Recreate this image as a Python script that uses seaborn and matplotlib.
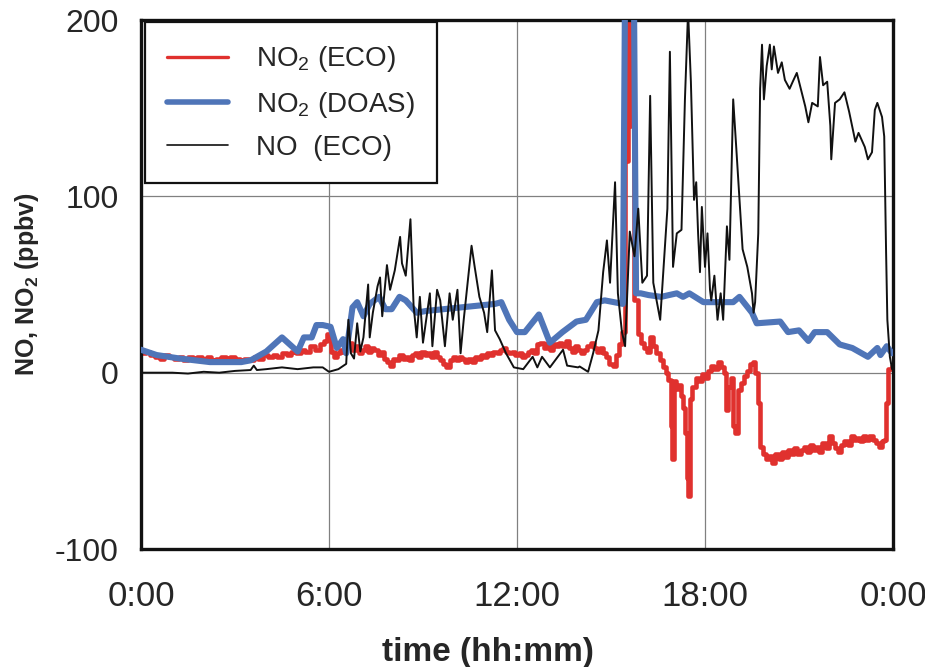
import seaborn as sns
import numpy as np
import matplotlib.pyplot as plt
import pandas as pd

# NO2 from the DOAS instrument (hours, ppbv)
doas_h = [0.0, 0.5, 1.25, 2.2, 3.2, 3.5, 4.0, 4.5, 5.0, 5.2, 5.45, 5.6, 5.8, 6.05, 6.25, 6.45, 6.55,
          6.75, 6.9, 7.1, 7.3, 7.6, 7.8, 8.0, 8.25, 8.45, 8.8, 9.1, 10.2, 11.3, 11.5, 11.75, 12.0,
          12.25, 12.7, 13.05, 13.45, 13.9, 14.2, 14.55, 14.8, 15.38, 15.48, 15.70, 15.80, 15.95,
          16.2, 16.6, 17.1, 17.3, 17.5, 17.95, 18.5, 18.9, 19.1, 19.5, 19.65, 20.4, 20.65, 21.0,
          21.3, 21.5, 21.9, 22.3, 22.7, 23.2, 23.5, 23.6, 23.8, 23.97]
doas_v = [13, 10, 8, 6, 6, 7, 12, 20, 12, 20, 20, 27, 27, 26, 14, 19, 11,
          37, 40, 32, 39, 43, 36, 36, 43, 41, 34, 35, 37, 39, 40, 30, 23,
          23, 33, 17, 23, 29, 30, 40, 41, 39, 300, 300, 45, 45,
          44, 43, 45, 43, 45, 40, 40, 40, 43, 34, 28, 29, 23, 24,
          18, 23, 23, 16, 14, 9, 14, 10, 15, 11]

# NO2 from the ECO analyser
eco2_h = [0.0, 0.15, 0.3, 0.45, 0.6, 0.75, 0.9, 1.05, 1.2, 1.35, 1.5, 1.65, 1.8, 1.95, 2.1, 2.25,
          2.4, 2.55, 2.7, 2.85, 3.0, 3.15, 3.3, 3.45, 3.6, 3.75, 3.9, 4.05, 4.2, 4.35, 4.5, 4.65,
          4.8, 4.95, 5.1, 5.25, 5.4, 5.55, 5.7, 5.85, 5.95,
          6.05, 6.15, 6.25, 6.35, 6.45, 6.55, 6.65, 6.75, 6.85, 6.95, 7.05, 7.15, 7.25, 7.35,
          7.45, 7.55, 7.65, 7.75, 7.85, 7.95, 8.05, 8.15, 8.25, 8.35, 8.45, 8.55, 8.65, 8.75,
          8.85, 8.95, 9.05, 9.15, 9.25, 9.35, 9.45, 9.55, 9.65, 9.75, 9.85, 9.95, 10.05, 10.15,
          10.25, 10.35, 10.45, 10.55, 10.65, 10.75, 10.85, 10.95, 11.05, 11.15, 11.25, 11.35,
          11.45, 11.55, 11.65, 11.75, 11.85, 11.95, 12.05, 12.15, 12.25, 12.35, 12.45, 12.55,
          12.65, 12.75, 12.85, 12.95, 13.05, 13.15, 13.25, 13.35, 13.45, 13.55, 13.65, 13.75,
          13.85, 13.95, 14.05, 14.15, 14.25, 14.35, 14.45, 14.55, 14.65, 14.75, 14.85, 14.95,
          15.05, 15.15, 15.25, 15.35,
          15.45, 15.55, 15.65, 15.75, 15.85, 15.95, 16.05, 16.15, 16.25, 16.35, 16.45, 16.55,
          16.65, 16.75, 16.82, 16.9, 16.95, 17.0, 17.08, 17.15, 17.22, 17.3, 17.36, 17.42, 17.47,
          17.52, 17.6, 17.7, 17.8, 17.9, 18.0, 18.1, 18.2, 18.3, 18.4, 18.5, 18.6, 18.68, 18.75,
          18.82, 18.9, 18.97, 19.05, 19.15, 19.25, 19.35, 19.45, 19.52, 19.6, 19.68, 19.75,
          19.85, 19.95, 20.05, 20.15, 20.25, 20.35, 20.45, 20.55, 20.65, 20.75, 20.85, 20.95,
          21.05, 21.15, 21.25, 21.35, 21.45, 21.55, 21.65, 21.75, 21.85, 21.95, 22.05, 22.15,
          22.25, 22.35, 22.45, 22.55, 22.65, 22.75, 22.85, 22.95, 23.05, 23.15, 23.25, 23.35,
          23.45, 23.55, 23.65, 23.72, 23.78, 23.85, 23.97]
eco2_v = [11, 12, 10, 9, 8, 10, 9, 8, 9, 7, 9, 8, 9, 8, 9, 7,
          8, 9, 8, 9, 8, 7, 8, 7, 9, 8, 10, 9, 10, 9, 11, 10,
          12, 11, 13, 12, 15, 13, 16, 18, 22,
          12, 9, 11, 13, 12, 16, 17, 13, 15, 11, 13, 15, 12, 14,
          13, 10, 12, 8, 6, 4, 8, 7, 10, 8, 9, 7, 10, 11,
          9, 12, 10, 11, 9, 12, 9, 7, 5, 3, 7, 9, 7, 9,
          8, 6, 8, 6, 9, 8, 10, 9, 11, 10, 12, 11,
          13, 14, 12, 11, 12, 10, 11, 9, 10, 12, 13, 11,
          16, 17, 14, 16, 13, 16, 15, 17, 15, 18, 14, 12,
          15, 13, 11, 13, 15, 17, 14, 12, 14, 11, 9, 5,
          4, 10, 16, 23,
          120, 230, 140, 41, 22, 17, 14, 12, 20, 15, 11, 7,
          3, 0, -4, -30, -49, -5, -9, -7, -13, -20, -34, -60, -70,
          -15, -8, -3, -5, -1, -3, 1, 4, 2, 6, 3, 0, -21, -8,
          -3, -30, -34, -10, -6, -2, 1, 5, 6, 0, -17, -42,
          -46, -49, -47, -51, -46, -49, -45, -48, -44, -46, -43, -46,
          -44, -42, -45, -41, -44, -42, -45, -40, -43, -36, -40, -43,
          -45, -41, -39, -41, -36, -38, -37, -39, -36, -38, -36, -38,
          -40, -42, -39, -38, -17, 2, 4]

# NO from the ECO analyser
eco_h = [0.0, 0.5, 1.0, 1.5, 2.0, 2.5, 3.0, 3.5, 3.6, 3.7, 4.0, 4.5, 5.0, 5.5, 5.8, 6.0, 6.3,
         6.55, 6.62, 6.7, 6.8, 6.9, 7.0, 7.1, 7.25, 7.3, 7.4, 7.55, 7.63, 7.7, 7.85, 7.95, 8.1,
         8.27, 8.33, 8.45, 8.6, 8.7, 8.8, 8.9, 9.0, 9.22, 9.3, 9.45, 9.55, 9.7, 9.85, 9.95, 10.1,
         10.2, 10.3, 10.55, 10.65, 10.8, 10.95, 11.05, 11.2, 11.3, 11.45, 11.65, 11.9, 12.2, 12.5,
         12.65, 12.8, 13.05, 13.47, 13.6, 13.95, 14.0, 14.27, 14.43, 14.6, 14.75, 14.87, 14.97,
         15.13, 15.22, 15.35, 15.45, 15.6, 15.75, 15.87, 16.0, 16.15, 16.25, 16.35, 16.57, 16.8,
         16.88, 16.98, 17.1, 17.25, 17.36, 17.46, 17.55, 17.65, 17.72, 17.78, 17.84, 17.9, 18.0,
         18.08, 18.16, 18.2, 18.3, 18.4, 18.5, 18.58, 18.7, 18.78, 18.9, 19.0, 19.1, 19.2, 19.35,
         19.5, 19.55, 19.6, 19.7, 19.76, 19.82, 19.88, 19.97, 20.07, 20.13, 20.2, 20.33, 20.45,
         20.55, 20.7, 20.8, 20.93, 21.03, 21.2, 21.3, 21.42, 21.6, 21.67, 21.77, 21.9, 22.0,
         22.03, 22.15, 22.3, 22.45, 22.6, 22.8, 22.9, 23.1, 23.2, 23.33, 23.42, 23.5, 23.65,
         23.72, 23.78, 23.82, 23.9, 23.97]
eco_v = [0, 0, 0, -0.5, 0.5, 0, 1, 1.5, 4, 1.5, 2, 3, 2, 3, 3, 0.5, 2,
         5, 30, 11, 8, 28, 12, 20, 50, 20, 34, 49, 54, 32, 61, 47, 58,
         77, 62, 55, 87, 38, 20, 43, 17, 45, 15, 47, 41, 15, 45, 30, 47,
         11, 30, 72, 60, 43, 34, 23, 58, 24, 19, 11, 3, 2, 9,
         3, 9, 3, 13, 4, 3, 3.5, 0.5, 11, 24, 57, 75, 51,
         108, 45, 23, 15, 80, 66, 93, 51, 55, 157, 51, 30, 93,
         182, 60, 79, 81, 155, 205, 165, 98, 108, 79, 57, 94, 60,
         79, 47, 41, 55, 30, 45, 30, 83, 64, 155, 127, 98, 70, 60,
         45, 34, 40, 79, 161, 186, 155, 174, 186, 172, 185, 170, 176,
         166, 161, 165, 170, 163, 151, 142, 153, 151, 179, 163, 165, 140,
         121, 153, 155, 159, 148, 131, 136, 128, 121, 125, 149, 153, 145,
         134, 68, 30, 9, 2]

tick_hours = [0, 6, 12, 18, 24]
tick_labels = ['0:00', '6:00', '12:00', '18:00', '0:00']

sns.set_style('white')
plt.rcParams['font.family'] = ['Liberation Sans', 'DejaVu Sans']
plt.rcParams['mathtext.default'] = 'regular'
plt.rcParams['axes.unicode_minus'] = False

fig = plt.figure(figsize=(9.25, 6.67), dpi=100)
ax = fig.add_axes([0.1524, 0.1769, 0.8130, 0.7931])

sns.lineplot(x=eco2_h, y=eco2_v, ax=ax, color='#e0312e', linewidth=3.3,
             drawstyle='steps-post', label='NO$_2$ (ECO)', zorder=2)
sns.lineplot(x=doas_h, y=doas_v, ax=ax, color='#4f75b8', linewidth=4.4,
             label='NO$_2$ (DOAS)', zorder=3)
sns.lineplot(x=eco_h, y=eco_v, ax=ax, color='#111111', linewidth=1.4,
             label='NO  (ECO)', zorder=4)

ax.set_xlim(0, 24)
ax.set_ylim(-100, 200)
ax.set_xticks(tick_hours)
ax.set_xticklabels(tick_labels, fontsize=25)
ax.set_yticks([-100, 0, 100, 200])
ax.tick_params(axis='y', labelsize=23, pad=16, length=0)
ax.tick_params(axis='x', pad=22, length=0)

ax.grid(True, color='#808080', linewidth=0.9)
for s in ax.spines.values():
    s.set_linewidth(2.4)
    s.set_color('#111111')

ax.set_xlabel('time (hh:mm)', fontsize=24, fontweight='bold')
ax.set_ylabel('NO, NO$_2$ (ppbv)', fontsize=18, fontweight='bold')
ax.xaxis.set_label_coords(0.462, -0.195)
ax.xaxis.label.set_va('center')
ax.yaxis.set_label_coords(-0.152, 0.5)
ax.yaxis.label.set_va('center')

leg = ax.legend(loc='upper left', bbox_to_anchor=(0.005, 0.996), borderaxespad=0,
                fontsize=20, frameon=True, fancybox=False, framealpha=1,
                edgecolor='#111111', handlelength=2.2, handletextpad=1.0,
                labelspacing=0.55, borderpad=0.8)
leg.get_frame().set_linewidth(1.6)
for line, lw in zip(leg.get_lines(), [2.4, 4.0, 1.2]):
    line.set_linewidth(lw)

fig.savefig('out.png', dpi=100)
